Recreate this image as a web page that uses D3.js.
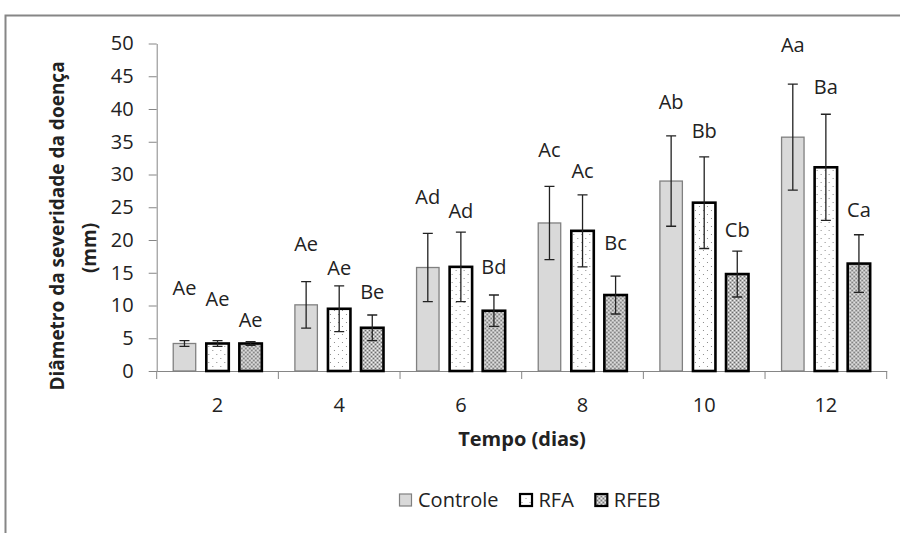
<!DOCTYPE html>
<html>
<head>
<meta charset="utf-8">
<script src="https://cdn.jsdelivr.net/npm/d3@7"></script>
<style>
  body { margin: 0; background: #fff; }
  svg text { font-family: "Open Sans", sans-serif; fill: #222; }
</style>
</head>
<body>
<div id="chart"></div>
<script>
let width  = 900,
    height = 533;

// dias de avaliação
let days = ["2", "4", "6", "8", "10", "12"];
let seriesNames = ["Controle", "RFA", "RFEB"];

// médias (mm)
let controle = [4.2, 10.1, 15.8, 22.6, 29.0, 35.7];
let rfa      = [4.2,  9.5, 15.9, 21.4, 25.7, 31.1];
let rfeb     = [4.2,  6.6,  9.2, 11.6, 14.8, 16.4];

// desvio (barra de erro)
let controleErr = [0.45, 3.55, 5.2, 5.6, 6.9, 8.1];
let rfaErr      = [0.45, 3.5,  5.3, 5.5, 7.0, 8.1];
let rfebErr     = [0.28, 1.95, 2.4, 2.9, 3.5, 4.4];

// letras de significância
let controleLabels = ["Ae", "Ae", "Ad", "Ac", "Ab", "Aa"];
let rfaLabels      = ["Ae", "Ae", "Ad", "Ac", "Bb", "Ba"];
let rfebLabels     = ["Ae", "Be", "Bd", "Bc", "Cb", "Ca"];

// altura das letras, em mm
let controleLabelAt = [12.7, 19.4, 26.6, 33.8, 41.1, 49.8];
let rfaLabelAt      = [11.0, 15.7, 24.5, 30.5, 36.6, 43.4];
let rfebLabelAt     = [ 7.8, 12.1, 15.9, 19.6, 21.6, 24.6];

let yTicks = [0, 5, 10, 15, 20, 25, 30, 35, 40, 45, 50];

let values = { Controle: controle, RFA: rfa, RFEB: rfeb };
let errs   = { Controle: controleErr, RFA: rfaErr, RFEB: rfebErr };
let labels = { Controle: controleLabels, RFA: rfaLabels, RFEB: rfebLabels };
let labelAt = { Controle: controleLabelAt, RFA: rfaLabelAt, RFEB: rfebLabelAt };

let rows = [];
days.forEach(function(d, i) {
  seriesNames.forEach(function(s) {
    rows.push({ day: d, series: s, value: values[s][i], err: errs[s][i],
                label: labels[s][i], labelAt: labelAt[s][i] });
  });
});

let svg =
  d3.select("#chart")
    .append("svg")
      .attr("width", width)
      .attr("height", height);

// patterns
let defs = svg.append("defs");

let pRfa = defs.append("pattern")
    .attr("id", "pat-rfa")
    .attr("patternUnits", "userSpaceOnUse")
    .attr("width", 8).attr("height", 8);
pRfa.append("rect").attr("width", 8).attr("height", 8).attr("fill", "#fff");
pRfa.append("rect").attr("x", 2).attr("y", 2).attr("width", 1).attr("height", 1).attr("fill", "#8a8a8a");
pRfa.append("rect").attr("x", 6).attr("y", 6).attr("width", 1).attr("height", 1).attr("fill", "#8a8a8a");

let pRfeb = defs.append("pattern")
    .attr("id", "pat-rfeb")
    .attr("patternUnits", "userSpaceOnUse")
    .attr("width", 4).attr("height", 4);
pRfeb.append("rect").attr("width", 4).attr("height", 4).attr("fill", "#b8b8b8");
pRfeb.append("rect").attr("x", 0).attr("y", 0).attr("width", 1).attr("height", 1).attr("fill", "#f2f2f2");
pRfeb.append("rect").attr("x", 2).attr("y", 2).attr("width", 1).attr("height", 1).attr("fill", "#f2f2f2");
pRfeb.append("rect").attr("x", 2).attr("y", 0).attr("width", 1).attr("height", 1).attr("fill", "#6a6a6a");
pRfeb.append("rect").attr("x", 0).attr("y", 2).attr("width", 1).attr("height", 1).attr("fill", "#6a6a6a");

let fill   = { Controle: "#d9d9d9", RFA: "url(#pat-rfa)", RFEB: "url(#pat-rfeb)" };
let stroke = { Controle: "#808080", RFA: "#000", RFEB: "#000" };
let strokeW = { Controle: 1.3, RFA: 2.6, RFEB: 2.6 };

// chart frame (cut on right / bottom)
svg.append("path")
    .attr("d", "M5.5,533 V15.5 H900")
    .attr("fill", "none")
    .attr("stroke", "#868686")
    .attr("stroke-width", 2);

let x0 = d3.scaleBand()
    .domain(days)
    .range([156.7, 886.7])
    .padding(0);

let x1 = d3.scaleBand()
    .domain(seriesNames)
    .range([0, x0.bandwidth()])
    .paddingInner(0.32)
    .paddingOuter(0.5);

let y = d3.scaleLinear()
    .domain([0, 50])
    .range([371, 43.5]);

// y axis
let yAxis = svg.append("g")
    .attr("transform", translate(156.7, 0))
    .call(d3.axisLeft(y).tickValues(yTicks).tickSize(8).tickSizeOuter(0).tickPadding(15));
yAxis.selectAll("path, line").attr("stroke", "#868686");
yAxis.selectAll("text").attr("font-size", 20).attr("fill", "#222")
    .style("font-family", "'Open Sans', sans-serif");

// x axis
let xAxis = svg.append("g")
    .attr("transform", translate(0, 371))
    .call(d3.axisBottom(x0).tickSize(0).tickSizeOuter(0).tickPadding(27));
xAxis.selectAll("path").attr("stroke", "#868686");
xAxis.selectAll("text").attr("font-size", 20).attr("fill", "#222")
    .style("font-family", "'Open Sans', sans-serif");

let edges = days.map(function(d) { return x0(d); }).concat([x0.range()[1]]);
svg.append("g").selectAll("line")
    .data(edges)
    .enter()
  .append("line")
    .attr("x1", function(d) { return d; })
    .attr("x2", function(d) { return d; })
    .attr("y1", 371)
    .attr("y2", 379)
    .attr("stroke", "#868686");

// bars
let groups =
  svg.selectAll(".bar")
     .data(rows)
     .enter()
    .append("g")
     .attr("class", "bar")
     .attr("transform", function(d) { return translate(x0(d.day) + x1(d.series), 0); });

groups.append("rect")
    .attr("x", 0)
    .attr("y", function(d) { return y(d.value); })
    .attr("width", x1.bandwidth())
    .attr("height", function(d) { return y(0) - y(d.value); })
    .attr("fill", function(d) { return fill[d.series]; })
    .attr("stroke", function(d) { return stroke[d.series]; })
    .attr("stroke-width", function(d) { return strokeW[d.series]; });

// error bars
let cx = x1.bandwidth() / 2;
groups.append("path")
    .attr("d", function(d) {
      let top = y(d.value + d.err), bot = y(d.value - d.err);
      return "M" + cx + "," + top + "V" + bot +
             "M" + (cx - 5) + "," + top + "H" + (cx + 5) +
             "M" + (cx - 5) + "," + bot + "H" + (cx + 5);
    })
    .attr("fill", "none")
    .attr("stroke", "#222")
    .attr("stroke-width", 1.3);

groups.append("text")
    .attr("x", cx)
    .attr("y", function(d) { return y(d.labelAt); })
    .attr("dy", "0.35em")
    .attr("text-anchor", "middle")
    .attr("font-size", 20)
    .text(function(d) { return d.label; });

// axis titles
svg.append("text")
    .attr("transform", translate(57, 226) + " rotate(-90)")
    .attr("text-anchor", "middle")
    .attr("dy", "0.35em")
    .attr("font-size", 19)
    .attr("font-weight", "bold")
    .text("Diâmetro da severidade da doença");

svg.append("text")
    .attr("transform", translate(89, 248) + " rotate(-90)")
    .attr("text-anchor", "middle")
    .attr("dy", "0.35em")
    .attr("font-size", 19)
    .attr("font-weight", "bold")
    .text("(mm)");

svg.append("text")
    .attr("x", 522)
    .attr("y", 439)
    .attr("dy", "0.35em")
    .attr("text-anchor", "middle")
    .attr("font-size", 20)
    .attr("font-weight", "bold")
    .text("Tempo (dias)");

// legend
let legend = svg.append("g").attr("transform", translate(399, 500));
let lx = 0;
seriesNames.forEach(function(s) {
  let item = legend.append("g").attr("transform", translate(lx, 0));
  item.append("rect")
      .attr("x", 0.5).attr("y", -6)
      .attr("width", 12).attr("height", 12)
      .attr("fill", fill[s])
      .attr("stroke", stroke[s])
      .attr("stroke-width", s === "Controle" ? 1.2 : 2.2);
  let t = item.append("text")
      .attr("x", 19)
      .attr("dy", "0.35em")
      .attr("font-size", 20)
      .text(s);
  lx += 19 + t.node().getComputedTextLength() + 21;
});

function translate(x, y=0) {
  return "translate({x}, {y})"
          .replace("{x}", x)
          .replace("{y}", y);
}
</script>
</body>
</html>
